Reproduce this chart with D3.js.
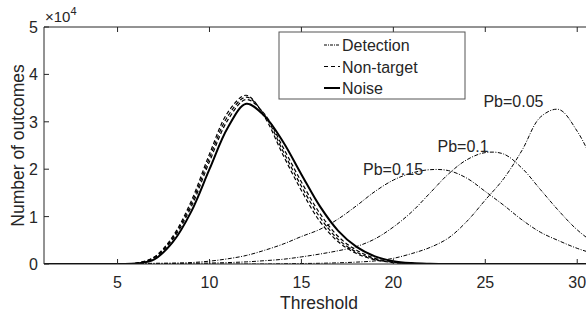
<!DOCTYPE html>
<html>
<head>
<meta charset="utf-8">
<script src="https://cdn.jsdelivr.net/npm/d3@7"></script>
<style>
  body { margin: 0; background: #fff; }
  text { font-family: "Liberation Sans", Arial, sans-serif; fill: #262626; }
</style>
</head>
<body>
<div id="chart"></div>
<script>
// Données (abscisse = seuil, ordonnée = nombre de résultats)
const thresholds = [1,2,3,4,5,6,7,8,9,10,11,12,13,14,15,16,17,18,19,20,21,22,23,24,25,26,27,28,29,30,31,32];
const noise      = [0,0,0,0,0,100,1000,4600,11000,20000,28800,33800,31200,25800,18900,12200,7000,3600,1600,600,200,60,0,0,0,0,0,0,0,0,0,0];
const nonTarget1 = [0,0,0,0,0,150,1500,5800,13200,23200,32000,35600,31000,23000,15500,9000,4700,2200,900,300,100,30,0,0,0,0,0,0,0,0,0,0];
const nonTarget2 = [0,0,0,0,0,130,1400,5500,12600,22400,31200,35200,31400,23800,16400,9900,5200,2500,1000,350,100,30,0,0,0,0,0,0,0,0,0,0];
const nonTarget3 = [0,0,0,0,0,120,1300,5200,12000,21600,30400,34700,31600,24600,17300,10700,5800,2900,1200,450,130,40,0,0,0,0,0,0,0,0,0,0];
const detection015 = [0,0,0,0,50,100,150,200,300,600,1100,1800,2900,4200,5800,7300,9500,12300,15300,17700,19200,19900,19700,18100,15300,12400,9300,6700,4900,3300,2100,1300];
const detection01  = [0,0,0,0,0,0,50,100,150,200,300,450,700,1000,1500,2100,2800,3700,5300,7800,11000,15000,19000,22000,23500,23200,20200,15700,11200,7200,4300,2500];
const detection005 = [0,0,0,0,0,0,0,0,0,0,0,0,0,50,100,150,250,400,650,1200,2200,3500,5500,9000,13500,18000,24000,31000,32600,28000,20500,13000];
const xTicks = [5, 10, 15, 20, 25, 30];
const yTicks = [0, 1, 2, 3, 4, 5]; // en unités de 10^4
const pbLabels = [
  {text: "Pb=0.05", t: 24.9, v: 33100},
  {text: "Pb=0.1", t: 22.4, v: 23600},
  {text: "Pb=0.15", t: 18.35, v: 18800}
];
const legendLabels = ["Detection", "Non-target", "Noise"];

const width = 586, height = 320;
const margin = {left: 44, top: 27, bottom: 264};

const svg = d3.select("#chart")
  .append("svg")
  .attr("width", width)
  .attr("height", height);

// Échelles
const x = d3.scaleLinear().domain([1, 32]).range([margin.left, 614]);
const y = d3.scaleLinear().domain([0, 50000]).range([margin.bottom, margin.top]);

svg.append("clipPath").attr("id", "clip")
  .append("rect")
  .attr("x", margin.left).attr("y", margin.top)
  .attr("width", width - margin.left).attr("height", margin.bottom - margin.top);

const line = d3.line()
  .x((d, i) => x(thresholds[i]))
  .y(d => y(d))
  .curve(d3.curveCatmullRom);

const plot = svg.append("g").attr("clip-path", "url(#clip)");

// Courbes de détection (tiret-point)
[detection015, detection01, detection005].forEach(s => {
  plot.append("path")
    .datum(s)
    .attr("d", line)
    .attr("fill", "none")
    .attr("stroke", "#000")
    .attr("stroke-width", 1)
    .attr("stroke-dasharray", "4,1.5,1,1.5");
});

// Non-cible (tirets)
[nonTarget1, nonTarget2, nonTarget3].forEach(s => {
  plot.append("path")
    .datum(s)
    .attr("d", line)
    .attr("fill", "none")
    .attr("stroke", "#000")
    .attr("stroke-width", 1.2)
    .attr("stroke-dasharray", "4,2.5");
});

// Bruit (trait plein)
plot.append("path")
  .datum(noise)
  .attr("d", line)
  .attr("fill", "none")
  .attr("stroke", "#000")
  .attr("stroke-width", 2);

// Axes
const axisColor = "#262626";
svg.append("line")
  .attr("x1", margin.left).attr("x2", width)
  .attr("y1", margin.bottom).attr("y2", margin.bottom)
  .attr("stroke", axisColor);
svg.append("line")
  .attr("x1", margin.left).attr("x2", width)
  .attr("y1", margin.top).attr("y2", margin.top)
  .attr("stroke", axisColor);
svg.append("line")
  .attr("x1", margin.left).attr("x2", margin.left)
  .attr("y1", margin.top).attr("y2", margin.bottom)
  .attr("stroke", axisColor);

xTicks.forEach(t => {
  svg.append("line")
    .attr("x1", x(t)).attr("x2", x(t))
    .attr("y1", margin.bottom).attr("y2", margin.bottom - 5)
    .attr("stroke", axisColor);
  svg.append("line")
    .attr("x1", x(t)).attr("x2", x(t))
    .attr("y1", margin.top).attr("y2", margin.top + 5)
    .attr("stroke", axisColor);
  svg.append("text")
    .attr("x", x(t)).attr("y", 288)
    .attr("text-anchor", "middle")
    .style("font-size", "16px")
    .text(t);
});

yTicks.forEach(t => {
  svg.append("line")
    .attr("x1", margin.left).attr("x2", margin.left + 5)
    .attr("y1", y(t * 1e4)).attr("y2", y(t * 1e4))
    .attr("stroke", axisColor);
  svg.append("text")
    .attr("x", 38).attr("y", y(t * 1e4) + 6)
    .attr("text-anchor", "end")
    .style("font-size", "16px")
    .text(t);
});

// Multiplicateur ×10^4
const mult = svg.append("text").attr("x", 45).attr("y", 22).style("font-size", "15px");
mult.append("tspan").text("\u00d710");
mult.append("tspan").attr("dy", -7).style("font-size", "11px").text("4");

// Titres des axes
svg.append("text")
  .attr("x", 319).attr("y", 309)
  .attr("text-anchor", "middle")
  .style("font-size", "17.5px")
  .text("Threshold");

svg.append("text")
  .attr("transform", `translate(24,${(margin.top + margin.bottom) / 2}) rotate(-90)`)
  .attr("text-anchor", "middle")
  .style("font-size", "17.5px")
  .text("Number of outcomes");

// Étiquettes Pb
pbLabels.forEach(p => {
  svg.append("text")
    .attr("x", x(p.t)).attr("y", y(p.v))
    .style("font-size", "16px")
    .text(p.text);
});

// Légende
const legend = svg.append("g");
legend.append("rect")
  .attr("x", 279).attr("y", 32)
  .attr("width", 186).attr("height", 67)
  .attr("fill", "#fff")
  .attr("stroke", "#555")
  .attr("stroke-width", 1);
const legendDash = ["3,1,1,1", "4,3", null];
const legendWidth = [1, 1.2, 2];
legendLabels.forEach((lab, i) => {
  const ly = 45 + i * 21.5;
  legend.append("line")
    .attr("x1", 324).attr("x2", 340)
    .attr("y1", ly).attr("y2", ly)
    .attr("stroke", "#000")
    .attr("stroke-width", legendWidth[i])
    .attr("stroke-dasharray", legendDash[i]);
  legend.append("text")
    .attr("x", 342).attr("y", ly + 6)
    .style("font-size", "16px")
    .text(lab);
});
</script>
</body>
</html>
